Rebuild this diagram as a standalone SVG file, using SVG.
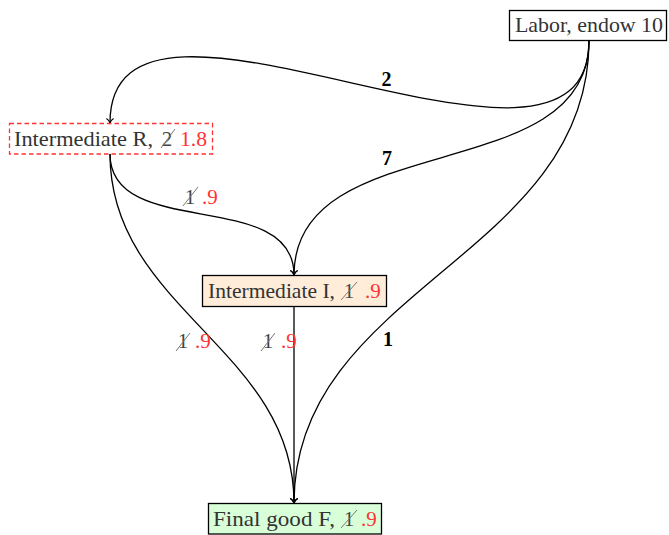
<svg xmlns="http://www.w3.org/2000/svg" width="669" height="535" viewBox="0 0 669 535">
<style>
.box{stroke:#000;stroke-width:1.3}
.t{font-size:21px;fill:#333}
.red{fill:#f33}
.st{fill:#444}
.slash{stroke:#777;stroke-width:1}
.lbl{font-size:20px;font-weight:bold;fill:#000;text-anchor:middle}
.edge{fill:none;stroke:#000;stroke-width:1.3;marker-end:url(#tip)}
</style>
<defs>
<marker id="tip" markerUnits="userSpaceOnUse" markerWidth="12" markerHeight="12" viewBox="-6 -6 12 12" refX="0" refY="0" orient="auto">
<path d="M-4.5,-3.6 C-3,-1.2 -1,-0.3 0,0 C-1,0.3 -3,1.2 -4.5,3.6" fill="none" stroke="#000" stroke-width="1.1"/>
</marker>
</defs>
<g font-family="'Liberation Serif', 'DejaVu Serif', serif">
<g id="connectors">
<path class="edge" d="M589,41 C589,232 110,-67 110,123"/>
<path class="edge" d="M589,41 C589,189 294,126 294,275"/>
<path class="edge" d="M589,41 C589,256 294,289 294,503"/>
<path class="edge" d="M110,154 C110,241 294,187 294,275"/>
<path class="edge" d="M110,154 C110,309 294,349 294,503"/>
<path class="edge" d="M294,306 L294,503"/>
<text class="lbl" x="386.5" y="86">2</text>
<text class="lbl" x="387" y="165">7</text>
<text class="lbl" x="388" y="346">1</text>
<g id="lbl-RI">
<text class="t st" x="190" y="204" text-anchor="middle">1</text>
<line class="slash" x1="183" y1="206" x2="198" y2="187"/>
<text class="t red" x="202" y="204">.9</text>
</g>
<g id="lbl-RF">
<text class="t st" x="183" y="348" text-anchor="middle">1</text>
<line class="slash" x1="176" y1="351" x2="190" y2="333"/>
<text class="t red" x="195" y="348">.9</text>
</g>
<g id="lbl-IF">
<text class="t st" x="268" y="348" text-anchor="middle">1</text>
<line class="slash" x1="261" y1="351" x2="275" y2="333"/>
<text class="t red" x="281" y="348">.9</text>
</g>
</g>
<g id="labor">
<rect class="box" x="509.5" y="10.5" width="157" height="30" fill="#fff"/>
<text class="t" x="515" y="32" textLength="148" lengthAdjust="spacingAndGlyphs">Labor, endow 10</text>
</g>
<g id="intermediate-r">
<rect x="9.5" y="123.5" width="203" height="30.5" fill="#fff" stroke="#f33" stroke-width="1.3" stroke-dasharray="4.5 3"/>
<text class="t" x="14" y="146" textLength="139" lengthAdjust="spacingAndGlyphs">Intermediate R,</text>
<text class="t st" x="167" y="146" text-anchor="middle">2</text>
<line class="slash" x1="161" y1="148" x2="175" y2="129"/>
<text class="t red" x="180" y="146" textLength="27" lengthAdjust="spacingAndGlyphs">1.8</text>
</g>
<g id="intermediate-i">
<rect class="box" x="202.5" y="275.5" width="184" height="31" fill="#ffedd9"/>
<text class="t" x="208" y="298" textLength="127" lengthAdjust="spacingAndGlyphs">Intermediate I,</text>
<text class="t st" x="349" y="298" text-anchor="middle">1</text>
<line class="slash" x1="341" y1="300" x2="357" y2="282"/>
<text class="t red" x="365" y="298">.9</text>
</g>
<g id="final-f">
<rect class="box" x="208.5" y="503.5" width="173" height="30.5" fill="#d9ffd9"/>
<text class="t" x="213" y="526" textLength="122" lengthAdjust="spacingAndGlyphs">Final good F,</text>
<text class="t st" x="349" y="526" text-anchor="middle">1</text>
<line class="slash" x1="341" y1="528" x2="357" y2="510"/>
<text class="t red" x="361" y="526">.9</text>
</g>
</g>
</svg>
